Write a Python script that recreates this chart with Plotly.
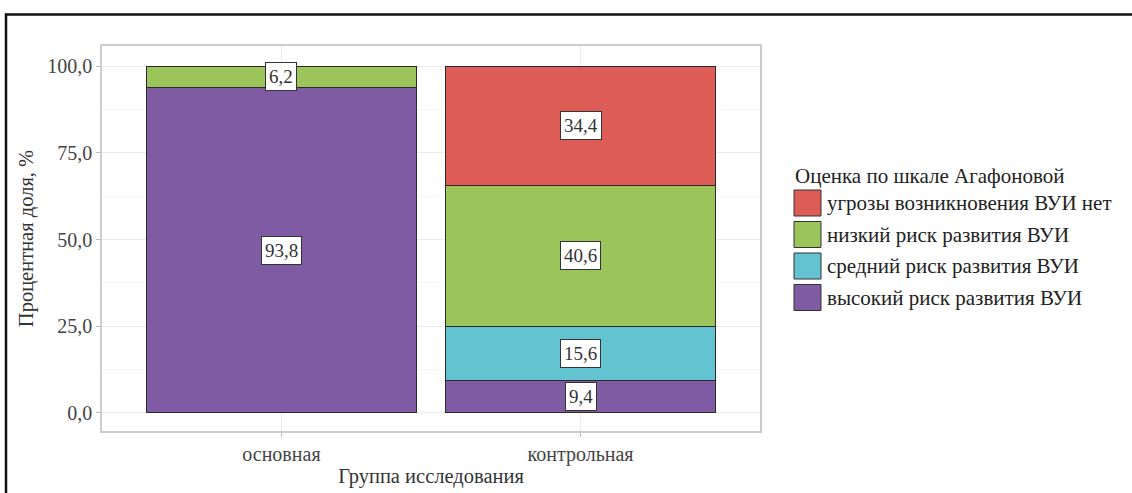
import plotly.graph_objects as go

groups = ["основная", "контрольная"]
series_names = [
    "высокий риск развития ВУИ",
    "средний риск развития ВУИ",
    "низкий риск развития ВУИ",
    "угрозы возникновения ВУИ нет",
]
series_colors = ["#7F5BA3", "#63C3D1", "#9BC45B", "#DE5C56"]
# values per series for [основная, контрольная]; None = absent
vysokiy = [93.8, 9.4]
sredniy = [None, 15.6]
nizkiy = [6.2, 40.6]
net = [None, 34.4]
series_values = [vysokiy, sredniy, nizkiy, net]

legend_title = "Оценка по шкале Агафоновой"
legend_order = [3, 2, 1, 0]
y_ticks = [0, 25, 50, 75, 100]

FONT = "Liberation Serif"
W, H = 1132, 493
L, R, T, B = 102, 372, 46, 62
pw, ph = W - L - R, H - T - B

def px2x(px):
    return (px - L) / pw

def py2y(py):
    return (H - B - py) / ph

fig = go.Figure()
for name, color, vals in zip(series_names, series_colors, series_values):
    fig.add_trace(go.Bar(
        x=groups, y=vals, name=name, width=0.9,
        marker=dict(color=color, line=dict(color="#2a2a2a", width=1)),
        showlegend=False, hoverinfo="skip",
    ))

annotations = []
for gi, g in enumerate(groups):
    base = 0.0
    for vals in series_values:
        v = vals[gi]
        if v is None:
            continue
        annotations.append(dict(
            x=g, y=base + v / 2, xref="x", yref="y",
            text=f"{v:.1f}".replace(".", ","), showarrow=False,
            font=dict(family=FONT, size=19, color="#333333"),
            bgcolor="white", bordercolor="#333333", borderwidth=1, borderpad=3,
        ))
        base += v

# manual legend
annotations.append(dict(
    x=px2x(793), y=py2y(176), xref="paper", yref="paper",
    xanchor="left", yanchor="middle", showarrow=False,
    text=legend_title, font=dict(family=FONT, size=21, color="#222222"),
))
shapes = []
row_y0 = 190
row_step = 31.5
for k, idx in enumerate(legend_order):
    top = row_y0 + k * row_step
    shapes.append(dict(
        type="rect", xref="paper", yref="paper",
        x0=px2x(794), x1=px2x(821), y0=py2y(top), y1=py2y(top + 26),
        fillcolor=series_colors[idx], line=dict(color="#333333", width=1),
    ))
    annotations.append(dict(
        x=px2x(825), y=py2y(top + 13), xref="paper", yref="paper",
        xanchor="left", yanchor="middle", showarrow=False,
        text=series_names[idx], font=dict(family=FONT, size=21, color="#222222"),
    ))

# outer frame lines (top and left)
shapes.append(dict(type="line", xref="paper", yref="paper",
                   x0=px2x(5), x1=px2x(W + 2), y0=py2y(14.5), y1=py2y(14.5),
                   line=dict(color="#111111", width=2.5)))
shapes.append(dict(type="line", xref="paper", yref="paper",
                   x0=px2x(6), x1=px2x(6), y0=py2y(13.5), y1=py2y(H + 2),
                   line=dict(color="#111111", width=2.5)))

fig.update_layout(
    width=W, height=H, barmode="stack",
    margin=dict(l=L, r=R, t=T, b=B, autoexpand=False),
    paper_bgcolor="white", plot_bgcolor="white",
    separators=", ",
    font=dict(family=FONT, size=20, color="#333333"),
    annotations=annotations, shapes=shapes,
    showlegend=False,
)
fig.update_xaxes(
    type="category", range=[-0.6, 1.6],
    showgrid=True, gridcolor="#ebebeb", gridwidth=1,
    showline=True, linecolor="#cccccc", linewidth=1.5, mirror=True,
    ticks="outside", ticklen=4, tickcolor="#b8b8b8",
    tickfont=dict(family=FONT, size=20, color="#444444"),
    title=dict(text="Группа исследования", font=dict(family=FONT, size=20.5, color="#333333"), standoff=4),
    zeroline=False,
)
fig.update_yaxes(
    range=[-5.2, 105.8], tickvals=y_ticks, tickformat=".1f",
    showgrid=True, gridcolor="#ebebeb", gridwidth=1,
    minor=dict(dtick=12.5, tick0=12.5, showgrid=True, gridcolor="#f6f6f6", gridwidth=1),
    showline=True, linecolor="#cccccc", linewidth=1.5, mirror=True,
    ticks="outside", ticklen=4, tickcolor="#b8b8b8",
    tickfont=dict(family=FONT, size=20, color="#444444"),
    title=dict(text="Процентная доля, %", font=dict(family=FONT, size=20.5, color="#333333"), standoff=8),
    zeroline=False,
)

fig.write_html("out.html", config={"displayModeBar": False},
               post_script="document.body.style.margin='0';")
